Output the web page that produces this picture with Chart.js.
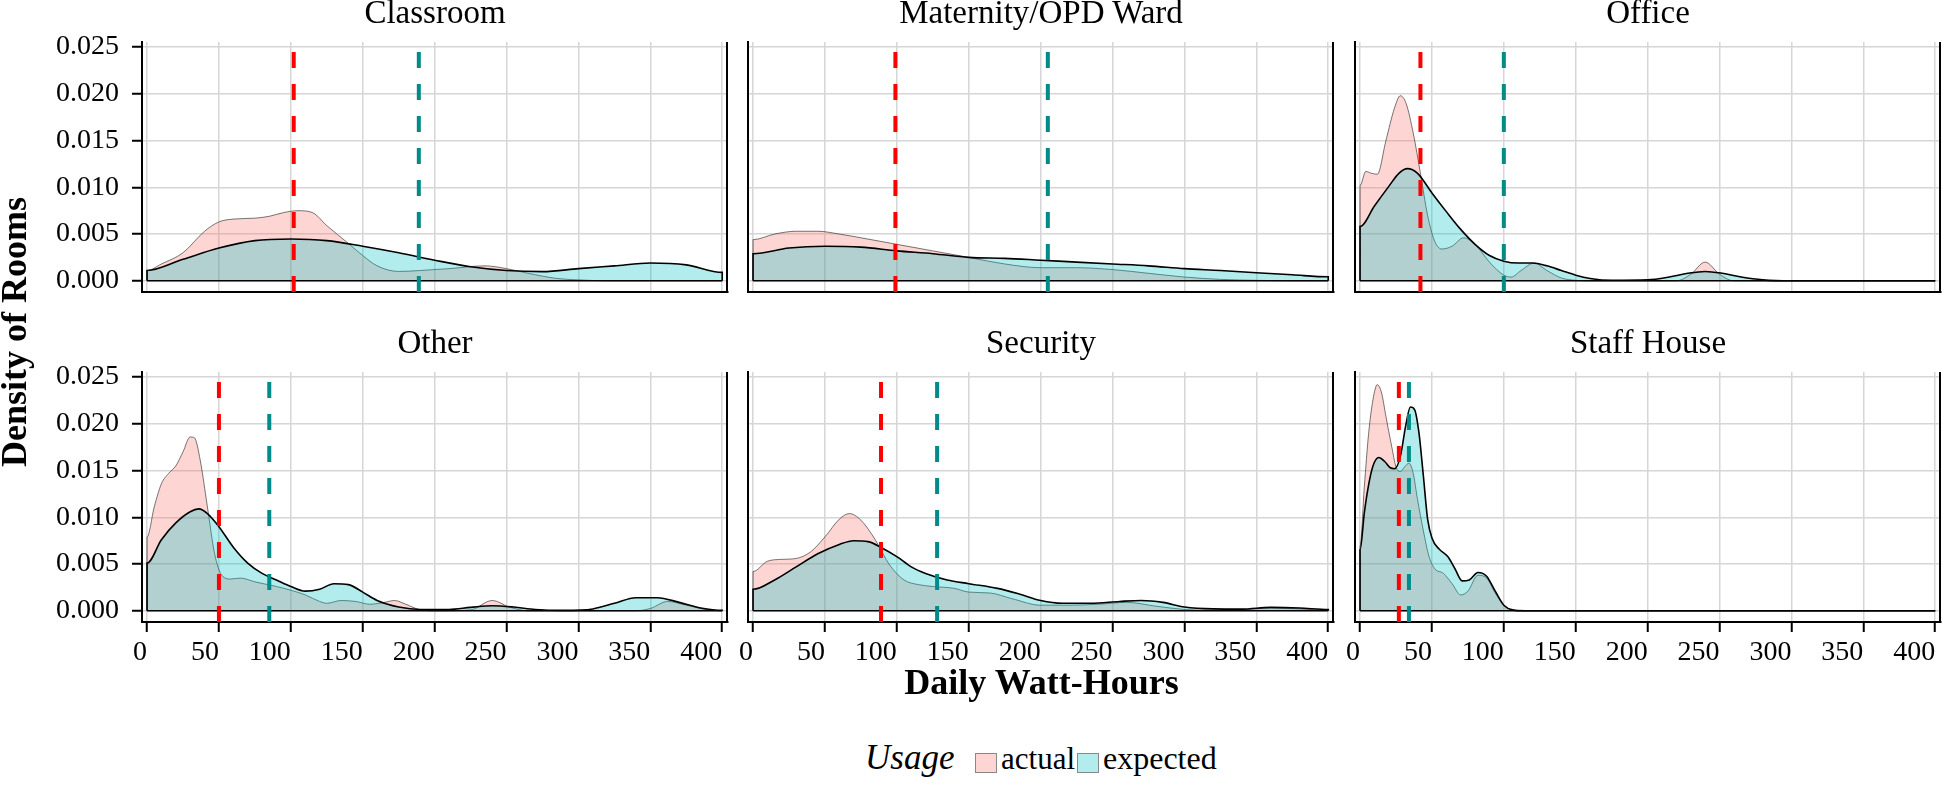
<!DOCTYPE html>
<html><head><meta charset="utf-8">
<script src="https://cdn.jsdelivr.net/npm/chart.js@4/dist/chart.umd.min.js"></script>
<style>
html,body{margin:0;padding:0;background:#fff;}
#wrap{position:relative;width:1943px;height:794px;overflow:hidden;background:#fff;font-family:'Liberation Serif','Times New Roman',serif;color:#000;}
canvas{position:absolute;}
.t{position:absolute;white-space:nowrap;line-height:1;color:#000;}
.key{position:absolute;box-sizing:border-box;border:1px solid #888;}
</style></head><body><div id="wrap"></div>
<script>
// ---------------- data ----------------
const categories = ['Classroom', 'Maternity/OPD Ward', 'Office', 'Other', 'Security', 'Staff House'];
const xTicks = [0, 50, 100, 150, 200, 250, 300, 350, 400];
const yTicks = [0, 0.005, 0.010, 0.015, 0.020, 0.025];
const seriesNames = ['actual', 'expected'];
const actualMean   = [102, 99, 42, 50, 89, 27];
const expectedMean = [189, 205, 100, 85, 128, 34];

const classroomActual = [[0,0.0011],[10,0.0018],[25,0.0030],[40,0.0053],[50,0.0063],[60,0.0066],[75,0.0067],[85,0.0069],[95,0.0073],[105,0.0075],[115,0.0073],[125,0.0059],[140,0.0040],[150,0.0027],[160,0.0016],[175,0.0010],[190,0.0011],[210,0.0013],[235,0.0016],[250,0.0013],[265,0.0008],[285,0.00025],[300,0.0001],[320,0],[400,0]];
const classroomExpected = [[0,0.0011],[25,0.0023],[50,0.0035],[75,0.0043],[100,0.00447],[125,0.0043],[150,0.0037],[175,0.0030],[200,0.0022],[225,0.0015],[250,0.0011],[275,0.00098],[300,0.0013],[325,0.0016],[350,0.0019],[375,0.0017],[400,0.0009]];

const maternityActual = [[0,0.0044],[15,0.0050],[30,0.0053],[45,0.0053],[60,0.0050],[75,0.0046],[100,0.0039],[125,0.0032],[150,0.0025],[175,0.0018],[200,0.0014],[225,0.0014],[250,0.0012],[275,0.0008],[300,0.0004],[325,0.00015],[350,0.00005],[375,0],[400,0]];
const maternityExpected = [[0,0.0029],[25,0.0035],[50,0.0037],[75,0.0036],[100,0.0032],[125,0.0029],[150,0.0025],[175,0.0024],[200,0.0022],[225,0.0020],[250,0.0018],[275,0.0016],[300,0.0013],[325,0.0011],[350,0.00086],[375,0.00064],[400,0.00043]];

const officeActual = [[0,0.0102],[4,0.0117],[8,0.0115],[12,0.0114],[18,0.0150],[24,0.0185],[28,0.0198],[32,0.0190],[37,0.0158],[42,0.0115],[47,0.0070],[52,0.0042],[57,0.0034],[64,0.0037],[72,0.0046],[80,0.0039],[90,0.0020],[100,0.0006],[105,0.0004],[112,0.0011],[121,0.0019],[130,0.0011],[140,0.0003],[150,0.00005],[160,0],[220,0],[230,0.0007],[240,0.0020],[250,0.0007],[260,0],[400,0]];
const officeExpected = [[0,0.0058],[10,0.0080],[20,0.0101],[27,0.0115],[33,0.0120],[40,0.0115],[50,0.0094],[60,0.0074],[70,0.0055],[80,0.0039],[90,0.0027],[100,0.0021],[110,0.0019],[120,0.0019],[130,0.0016],[140,0.0011],[150,0.0006],[160,0.00025],[175,0.00005],[200,0.0001],[215,0.0004],[228,0.0008],[240,0.0010],[252,0.0008],[265,0.0004],[280,0.0001],[300,0],[400,0]];

const otherActual = [[0,0.0079],[5,0.0111],[10,0.0136],[15,0.0147],[20,0.0155],[25,0.0170],[30,0.0186],[33,0.0185],[37,0.0161],[42,0.0111],[47,0.0061],[52,0.0038],[58,0.0034],[65,0.0035],[75,0.0031],[90,0.0026],[100,0.0022],[110,0.0017],[120,0.0010],[125,0.0008],[135,0.0011],[145,0.0010],[155,0.0007],[165,0.0009],[172,0.0011],[180,0.0007],[190,0.0001],[200,0],[225,0.0001],[240,0.0011],[252,0.0004],[265,0],[340,0],[350,0.00025],[362,0.0010],[375,0.0006],[390,0.0001],[400,0]];
const otherExpected = [[0,0.0051],[10,0.0076],[20,0.0094],[30,0.0106],[36,0.0109],[42,0.0104],[50,0.0090],[60,0.0068],[70,0.0051],[80,0.0040],[90,0.0033],[100,0.0026],[110,0.0021],[120,0.0023],[130,0.0029],[140,0.0028],[150,0.0020],[160,0.0011],[175,0.0004],[190,0.00014],[210,0.00014],[225,0.00036],[240,0.00054],[255,0.0004],[270,0.00014],[290,0.00004],[310,0.0002],[325,0.0008],[340,0.0014],[355,0.0014],[370,0.0009],[385,0.0003],[400,0.00004]];

const securityActual = [[0,0.0042],[10,0.0053],[20,0.0055],[30,0.0056],[40,0.0063],[50,0.0079],[60,0.0098],[67,0.0104],[75,0.0097],[85,0.0076],[95,0.0049],[105,0.0033],[115,0.0028],[125,0.0026],[140,0.0024],[150,0.0020],[165,0.0019],[180,0.0013],[200,0.0006],[220,0.0006],[240,0.0007],[260,0.0009],[280,0.0005],[300,0.00014],[320,0.00004],[340,0.0001],[360,0.0003],[380,0.0002],[400,0.00004]];
const securityExpected = [[0,0.0023],[15,0.0033],[30,0.0047],[45,0.0061],[60,0.0071],[70,0.0075],[80,0.0074],[90,0.0067],[100,0.0058],[110,0.0047],[120,0.0040],[135,0.0033],[150,0.0029],[170,0.0024],[185,0.0018],[200,0.0011],[215,0.0008],[235,0.0008],[255,0.0010],[270,0.0011],[285,0.0009],[300,0.0004],[320,0.0002],[340,0.00018],[360,0.00036],[380,0.0003],[400,0.00014]];

const staffActual = [[0,0.0069],[3,0.0133],[6,0.0190],[9,0.0226],[12,0.0242],[15,0.0233],[18,0.0208],[22,0.0176],[25,0.0154],[28,0.0149],[31,0.0154],[34,0.0158],[37,0.0147],[40,0.0119],[44,0.0086],[48,0.0058],[52,0.0045],[58,0.0040],[64,0.0029],[70,0.0017],[75,0.0021],[82,0.0038],[88,0.0035],[94,0.0019],[100,0.0006],[106,0.0001],[115,0],[400,0]];
const staffExpected = [[0,0.0065],[3,0.0105],[6,0.0135],[9,0.0155],[13,0.0164],[17,0.0160],[21,0.0153],[24,0.0152],[28,0.0165],[32,0.0200],[35,0.0218],[38,0.0215],[41,0.0190],[44,0.0145],[47,0.0098],[50,0.0078],[55,0.0066],[61,0.0058],[66,0.0045],[71,0.0032],[76,0.0033],[82,0.0041],[88,0.0037],[94,0.0021],[100,0.0006],[106,0.0001],[115,0],[400,0]];

const actualSeries = [classroomActual, maternityActual, officeActual, otherActual, securityActual, staffActual];
const expectedSeries = [classroomExpected, maternityExpected, officeExpected, otherExpected, securityExpected, staffExpected];

// ---------------- layout / style ----------------
const FONT = 'Liberation Serif';
Chart.defaults.font.family = FONT;
const colLeft = [142, 748, 1355];
const rowTop = [42, 372];
const PW = 586, PH = 250;
const T = 40, R = 10, B = 60;
const GRID = 'rgb(214,214,214)';
const ACT_FILL = 'rgba(248,118,109,0.3)';
const EXP_FILL = 'rgba(0,191,196,0.3)';
const ACT_LINE = '#FF0000';
const EXP_LINE = '#008B8B';

const wrap = document.getElementById('wrap');

const panelDeco = {
  id: 'panelDeco',
  afterDatasetsDraw(chart, args, opts) {
    const {ctx, chartArea: a, scales: {x}} = chart;
    ctx.save();
    ctx.beginPath(); ctx.rect(a.left, a.top, a.right - a.left, a.bottom - a.top); ctx.clip();
    ctx.lineWidth = 4; ctx.setLineDash([16, 16]); ctx.lineCap = 'butt';
    [[opts.actual, ACT_LINE], [opts.expected, EXP_LINE]].forEach(([v, col]) => {
      const px = x.getPixelForValue(v);
      ctx.strokeStyle = col;
      ctx.beginPath(); ctx.moveTo(px, a.bottom); ctx.lineTo(px, a.top); ctx.stroke();
    });
    ctx.restore();
  },
  afterDraw(chart) {
    const {ctx, chartArea: a} = chart;
    ctx.save();
    ctx.strokeStyle = '#000'; ctx.lineWidth = 2;
    ctx.beginPath(); ctx.moveTo(a.right - 1, a.top); ctx.lineTo(a.right - 1, a.bottom + 1); ctx.stroke();
    ctx.restore();
  }
};

function toPts(arr) {
  const p = arr.map(([x, y]) => ({x, y}));
  return [{x: p[0].x, y: 0}, ...p, {x: p[p.length - 1].x, y: 0}];
}

function addText(txt, left, top, size, extra) {
  const d = document.createElement('div');
  d.className = 't';
  d.textContent = txt;
  d.style.fontSize = size + 'px';
  d.style.left = left + 'px';
  d.style.top = top + 'px';
  if (extra) Object.assign(d.style, extra);
  wrap.appendChild(d);
  return d;
}

categories.forEach((cat, i) => {
  const c = i % 3, r = Math.floor(i / 3);
  const L = c === 0 ? 142 : 20;
  const W = L + PW + R, H = T + PH + B;
  const cv = document.createElement('canvas');
  cv.width = W; cv.height = H;
  cv.style.width = W + 'px'; cv.style.height = H + 'px';
  cv.style.left = (colLeft[c] - L) + 'px';
  cv.style.top = (rowTop[r] - T) + 'px';
  wrap.appendChild(cv);

  const act = toPts(actualSeries[i]);
  const exp = toPts(expectedSeries[i]);
  const ex = expectedSeries[i];

  new Chart(cv.getContext('2d'), {
    type: 'line',
    data: {
      datasets: [
        {label: 'baseline', data: [{x: ex[0][0], y: 0}, {x: ex[ex.length - 1][0], y: 0}],
         borderColor: '#000', borderWidth: 1.6, fill: false, pointRadius: 0, order: 0},
        {label: seriesNames[1], data: exp, borderColor: '#000', borderWidth: 1.6,
         backgroundColor: EXP_FILL, fill: 'origin', pointRadius: 0, cubicInterpolationMode: 'monotone', order: 1},
        {label: seriesNames[0], data: act, borderColor: 'rgba(30,30,30,0.75)', borderWidth: 0.8,
         backgroundColor: ACT_FILL, fill: 'origin', pointRadius: 0, cubicInterpolationMode: 'monotone', order: 2}
      ]
    },
    options: {
      responsive: false, animation: false, devicePixelRatio: 1,
      layout: {padding: {top: T, right: R, left: 0, bottom: 0}},
      events: [],
      plugins: {
        legend: {display: false}, tooltip: {enabled: false}, title: {display: false},
        panelDeco: {actual: actualMean[i], expected: expectedMean[i]}
      },
      scales: {
        x: {
          type: 'linear', min: -3.5, max: 404,
          afterBuildTicks: s => { s.ticks = xTicks.map(v => ({value: v})); },
          afterFit: s => { s.height = B; },
          grid: {color: GRID, lineWidth: 1.5, drawTicks: r === 1, tickLength: 10, tickColor: '#000', tickWidth: 2},
          border: {display: true, color: '#000', width: 2},
          ticks: {display: r === 1, align: 'end', padding: 4, autoSkip: false, maxRotation: 0, minRotation: 0,
                  color: '#000', font: {family: FONT, size: 28}, callback: v => String(v)}
        },
        y: {
          type: 'linear', min: -0.0012, max: 0.02555,
          afterBuildTicks: s => { s.ticks = yTicks.map(v => ({value: v})); },
          afterFit: s => { s.width = L; },
          grid: {color: GRID, lineWidth: 1.5, drawTicks: c === 0, tickLength: 10, tickColor: '#000', tickWidth: 2},
          border: {display: true, color: '#000', width: 2},
          ticks: {display: c === 0, padding: 13, color: '#000', font: {family: FONT, size: 28},
                  callback: v => v.toFixed(3)}
        }
      }
    },
    plugins: [panelDeco]
  });

  const cx = colLeft[c] + PW / 2;
  addText(cat, cx, (r === 0 ? 23.3 : 353.3) - 0.8375 * 33, 33, {transform: 'translateX(-50%)'});
});

addText('Daily Watt-Hours', 1041.5, 694 - 0.8375 * 36, 36, {fontWeight: 'bold', transform: 'translateX(-50%)'});
addText('Density of Rooms', 14, 332, 36, {fontWeight: 'bold', transform: 'translate(-50%,-50%) rotate(-90deg)'});

addText('Usage', 865, 769 - 0.8375 * 35, 35, {fontStyle: 'italic'});
function key(left, fill) {
  const k = document.createElement('div');
  k.className = 'key';
  k.style.left = left + 'px'; k.style.top = '753px';
  k.style.width = '22px'; k.style.height = '20px';
  k.style.background = fill;
  wrap.appendChild(k);
}
key(975, ACT_FILL);
addText(seriesNames[0], 1001, 769 - 0.8375 * 31, 31);
key(1077, EXP_FILL);
addText(seriesNames[1], 1103, 769 - 0.8375 * 32, 32);
</script></body></html>
